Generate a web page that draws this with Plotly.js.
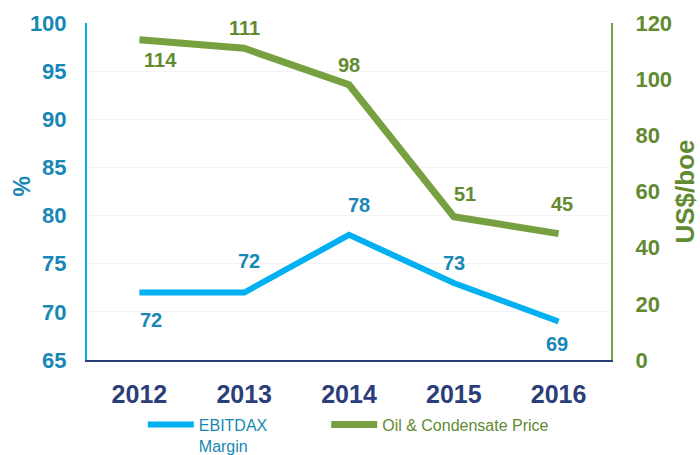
<!DOCTYPE html>
<html>
<head>
<meta charset="utf-8">
<script src="https://cdn.plot.ly/plotly-3.0.1.min.js"></script>
<style>html,body{margin:0;padding:0;background:#fff;}#chart{width:700px;height:455px;}</style>
</head>
<body>
<div id="chart"></div>
<script>
// Data
const years = ["2012", "2013", "2014", "2015", "2016"];
const ebitdaxMargin = [72, 72, 78, 73, 69];
const oilPrice = [114, 111, 98, 51, 45];
const leftTicks = [65, 70, 75, 80, 85, 90, 95, 100];
const rightTicks = [0, 20, 40, 60, 80, 100, 120];

// Styling
const FONT = "Liberation Sans, Arial, sans-serif";
const BLUE_LINE = "#00b0f0", BLUE_TEXT = "#1788b5";
const GREEN_LINE = "#77a141", GREEN_TEXT = "#628a31";
const NAVY = "#2c3e7a";
const ebitdaxOffset = {x: [12, 5, 10, 0, -2], y: [-27, 32, 30, 20, -23]};
const oilOffset = {x: [21, 0, 0, 11, 3], y: [-20, 20, 20, 23, 30]};

const traces = [
  {
    x: years, y: ebitdaxMargin, type: "scatter", mode: "lines",
    name: "EBITDAX<br>Margin", yaxis: "y", legend: "legend",
    line: {color: BLUE_LINE, width: 6},
    hoverinfo: "skip"
  },
  {
    x: years, y: oilPrice, type: "scatter", mode: "lines",
    name: "Oil & Condensate Price", yaxis: "y2", legend: "legend2",
    line: {color: GREEN_LINE, width: 7},
    hoverinfo: "skip"
  }
];

const annotations = [];
years.forEach((yr, i) => {
  annotations.push({x: i, y: ebitdaxMargin[i], xref: "x", yref: "y", text: "<b>" + ebitdaxMargin[i] + "</b>",
    showarrow: false, xshift: ebitdaxOffset.x[i], yshift: ebitdaxOffset.y[i],
    font: {family: FONT, size: 20, color: BLUE_TEXT}});
  annotations.push({x: i, y: oilPrice[i], xref: "x", yref: "y2", text: "<b>" + oilPrice[i] + "</b>",
    showarrow: false, xshift: oilOffset.x[i], yshift: oilOffset.y[i],
    font: {family: FONT, size: 20, color: GREEN_TEXT}});
});
// left axis title
annotations.push({xref: "paper", yref: "paper", x: 0, y: 0.5, xshift: -66, yshift: 5,
  xanchor: "center", yanchor: "middle",
  text: "<b>%</b>", textangle: -90, showarrow: false,
  font: {family: FONT, size: 23, color: BLUE_TEXT}});

const legendBase = {
  orientation: "h", xref: "container", yref: "container",
  xanchor: "left", yanchor: "top", valign: "top",
  itemwidth: 46, bgcolor: "rgba(0,0,0,0)"
};

const layout = {
  width: 700, height: 455,
  margin: {l: 87, r: 89, t: 23, b: 95},
  paper_bgcolor: "#fff", plot_bgcolor: "#fff",
  font: {family: FONT},
  showlegend: true,
  legend: Object.assign({}, legendBase, {x: 0.204, y: 0.104,
    font: {family: FONT, size: 16, color: BLUE_TEXT}}),
  legend2: Object.assign({}, legendBase, {x: 0.466, y: 0.104,
    font: {family: FONT, size: 16, color: GREEN_TEXT}}),
  xaxis: {
    type: "category", range: [-0.5, 4.5],
    showline: true, linecolor: NAVY, linewidth: 2,
    showgrid: false, zeroline: false, ticks: "",
    tickfont: {family: FONT, size: 25, color: NAVY, weight: "bold"},
    ticklabelstandoff: 11
  },
  yaxis: {
    range: [65, 100], tickvals: leftTicks, ticktext: leftTicks.map(String),
    showline: true, linecolor: BLUE_LINE, linewidth: 2,
    showgrid: true, gridcolor: "#f3f3f3", gridwidth: 1, zeroline: false, ticks: "",
    tickfont: {family: FONT, size: 22, color: BLUE_TEXT, weight: "bold"},
    ticklabelstandoff: 14
  },
  yaxis2: {
    range: [0, 120], tickvals: rightTicks, ticktext: rightTicks.map(String),
    overlaying: "y", side: "right",
    showline: true, linecolor: GREEN_LINE, linewidth: 2,
    showgrid: false, zeroline: false, ticks: "",
    tickfont: {family: FONT, size: 22, color: GREEN_TEXT, weight: "bold"},
    ticklabelstandoff: 18,
    title: {text: "US$/boe", standoff: 12, font: {family: FONT, size: 26, color: GREEN_TEXT, weight: "bold"}}
  },
  annotations: annotations
};

Plotly.newPlot("chart", traces, layout, {displayModeBar: false, staticPlot: true});
</script>
</body>
</html>
